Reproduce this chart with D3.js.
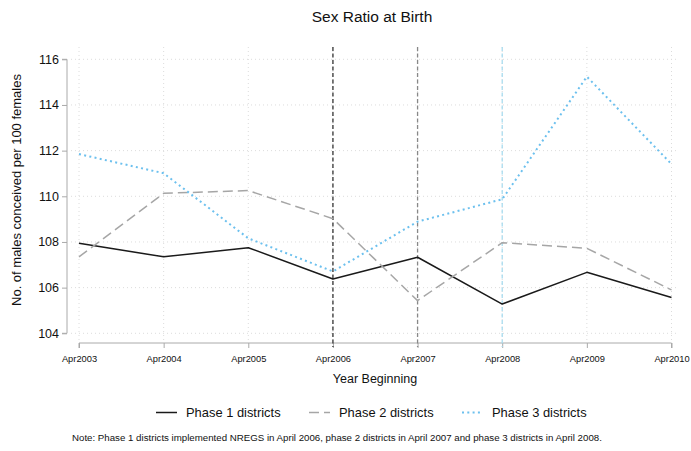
<!DOCTYPE html>
<html>
<head>
<meta charset="utf-8">
<script src="https://cdn.jsdelivr.net/npm/d3@7"></script>
<style>
  body { margin: 0; background: #fff; }
  svg { display: block; font-family: "Liberation Sans", Arial, sans-serif; }
</style>
</head>
<body>
<svg id="chart" width="691" height="451"></svg>
<script>
// Survey years (April of each year)
const years = ["Apr2003", "Apr2004", "Apr2005", "Apr2006", "Apr2007", "Apr2008", "Apr2009", "Apr2010"];

// Males conceived per 100 females, by district phase
const phase1 = [107.94, 107.35, 107.75, 106.38, 107.33, 105.28, 106.67, 105.57];
const phase2 = [107.35, 110.13, 110.25, 109.02, 105.43, 107.97, 107.72, 105.90];
const phase3 = [111.85, 111.01, 108.16, 106.71, 108.89, 109.87, 115.24, 111.41];

const yTicks = [104, 106, 108, 110, 112, 114, 116];

// NREGS rollout markers
const rollout = [
  { year: "Apr2006", color: "#333333" },
  { year: "Apr2007", color: "#888888" },
  { year: "Apr2008", color: "#a9dcef" }
];

const seriesList = [
  { name: "Phase 1 districts", values: phase1, color: "#1a1a1a", dash: null, width: 1.5 },
  { name: "Phase 2 districts", values: phase2, color: "#a6a6a6", dash: "10,5", width: 1.5 },
  { name: "Phase 3 districts", values: phase3, color: "#6cc0ee", dash: "2,3.3", width: 2 }
];

const svg = d3.select("#chart");

const x = d3.scalePoint().domain(years).range([79, 671.5]);
const y = d3.scaleLinear().domain([104, 116]).range([333.3, 59.3]);
const plotTop = 47;
const xAxisY = 343;

// Grid lines
const grid = svg.append("g").attr("stroke", "#dcdcdc").attr("stroke-width", 1).attr("stroke-dasharray", "1,3");
grid.selectAll("line.h").data(yTicks).join("line")
  .attr("x1", 71).attr("x2", 677)
  .attr("y1", d => y(d)).attr("y2", d => y(d));
grid.selectAll("line.v").data(years).join("line")
  .attr("x1", d => x(d)).attr("x2", d => x(d))
  .attr("y1", plotTop).attr("y2", xAxisY - 1);

// Y axis
const yAxis = svg.append("g").attr("transform", "translate(67,0)")
  .call(d3.axisLeft(y).tickValues(yTicks).tickSize(5).tickPadding(3).tickFormat(d3.format("d")));
yAxis.select(".domain").attr("stroke", "#aaaaaa").attr("d", `M-5,${y(116)}H0V${y(104)}H-5`);
yAxis.selectAll(".tick line").attr("stroke", "#aaaaaa");
yAxis.selectAll(".tick text").attr("font-size", 12.5).attr("fill", "#111").attr("font-family", "Liberation Sans, Arial, sans-serif");

// X axis
const xAxis = svg.append("g").attr("transform", `translate(0,${xAxisY})`)
  .call(d3.axisBottom(x).tickSize(5).tickPadding(7));
xAxis.select(".domain").attr("stroke", "#aaaaaa").attr("d", `M${x(years[0])},5V0H${x(years[years.length - 1])}V5`);
xAxis.selectAll(".tick line").attr("stroke", "#aaaaaa");
xAxis.selectAll(".tick text").attr("font-size", 9.3).attr("fill", "#111").attr("font-family", "Liberation Sans, Arial, sans-serif");

// Rollout reference lines
svg.append("g").selectAll("line").data(rollout).join("line")
  .attr("x1", d => x(d.year)).attr("x2", d => x(d.year))
  .attr("y1", plotTop).attr("y2", xAxisY + 4)
  .attr("stroke", d => d.color).attr("stroke-width", 1.3)
  .attr("stroke-dasharray", "4,2.5");

// Series lines
const line = d3.line().x((d, i) => x(years[i])).y(d => y(d));
svg.append("g").selectAll("path").data(seriesList).join("path")
  .attr("d", d => line(d.values))
  .attr("fill", "none")
  .attr("stroke", d => d.color)
  .attr("stroke-width", d => d.width)
  .attr("stroke-dasharray", d => d.dash)
  .attr("stroke-linejoin", "round");

// Titles
svg.append("text").attr("x", 372).attr("y", 22).attr("text-anchor", "middle")
  .attr("font-size", 15.5).attr("fill", "#111").text("Sex Ratio at Birth");
svg.append("text").attr("x", 375).attr("y", 383).attr("text-anchor", "middle")
  .attr("font-size", 12.5).attr("fill", "#111").text("Year Beginning");
svg.append("text").attr("transform", `translate(21,190) rotate(-90)`)
  .attr("text-anchor", "middle").attr("font-size", 13).attr("fill", "#111")
  .text("No. of males conceived per 100 females");

// Legend
const legendX = [156, 309, 462];
const legend = svg.append("g").selectAll("g").data(seriesList).join("g")
  .attr("transform", (d, i) => `translate(${legendX[i]},412.5)`);
legend.append("line").attr("x1", 0).attr("x2", 21).attr("y1", 0).attr("y2", 0)
  .attr("stroke", d => d.color).attr("stroke-width", d => d.width)
  .attr("stroke-dasharray", d => d.dash);
legend.append("text").attr("x", 30).attr("y", 4.5).attr("font-size", 12.9).attr("fill", "#111")
  .text(d => d.name);

// Note
svg.append("text").attr("x", 72).attr("y", 441).attr("font-size", 9.7).attr("fill", "#111")
  .text("Note: Phase 1 districts implemented NREGS in April 2006, phase 2 districts in April 2007 and phase 3 districts in April 2008.");
</script>
</body>
</html>
